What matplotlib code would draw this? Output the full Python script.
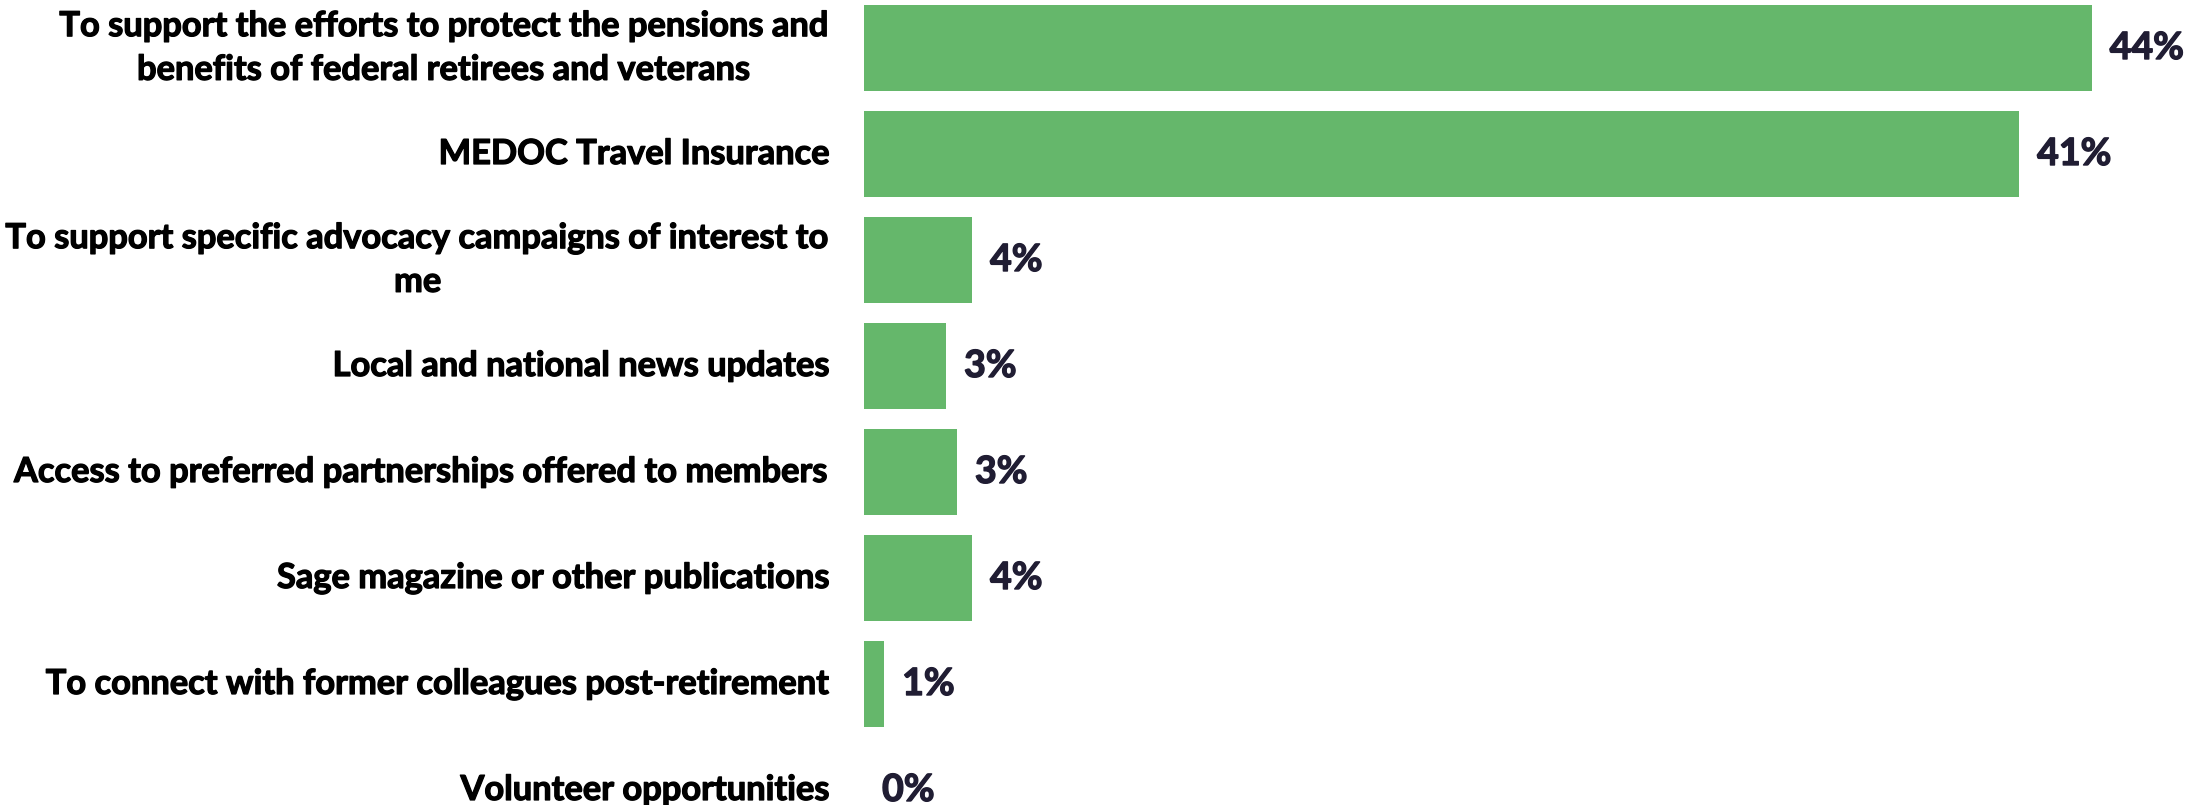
import matplotlib
matplotlib.use("Agg")
import matplotlib.pyplot as plt
import matplotlib.patheffects as pe

categories = [
    "To support the efforts to protect the pensions and\nbenefits of federal retirees and veterans",
    "MEDOC Travel Insurance",
    "To support specific advocacy campaigns of interest to\nme",
    "Local and national news updates",
    "Access to preferred partnerships offered to members",
    "Sage magazine or other publications",
    "To connect with former colleagues post-retirement",
    "Volunteer opportunities",
]
values = [44.0, 41.4, 3.87, 2.94, 3.33, 3.87, 0.72, 0.0]
value_labels = ["44%", "41%", "4%", "3%", "3%", "4%", "1%", "0%"]

BAR_COLOR = "#65B76B"
VAL_COLOR = "#201D33"
FONT = ["Lato", "DejaVu Sans"]

W, H = 2199, 805
fig = plt.figure(figsize=(W / 100, H / 100), dpi=100)
left_px = 864
px_per_unit = 27.9
ax = fig.add_axes([left_px / W, 0, 1 - left_px / W, 1])
ax.set_xlim(0, (W - left_px) / px_per_unit)
pitch = 106.0
c0 = 48.0
ax.set_ylim((H - c0) / pitch, -c0 / pitch)

ypos = list(range(len(categories)))
ax.barh(ypos, values, height=0.81, color=BAR_COLOR, linewidth=0)

for y, v, lab, cat in zip(ypos, values, value_labels, categories):
    ax.annotate(lab, xy=(v, y), xytext=(13, 0), textcoords="offset points",
                ha="left", va="center", fontsize=27, fontweight="bold",
                color=VAL_COLOR, family=FONT,
                path_effects=[pe.withStroke(linewidth=1.0, foreground=VAL_COLOR)])
    ax.annotate(cat, xy=(0, y), xytext=(-24.5, 0), textcoords="offset points",
                ha="right", va="center", multialignment="center",
                fontsize=24.8, fontweight="bold", color="black",
                family=FONT, linespacing=1.45, annotation_clip=False,
                path_effects=[pe.withStroke(linewidth=0.9, foreground="black")])

ax.set_axis_off()
fig.savefig("out.png", dpi=100)
